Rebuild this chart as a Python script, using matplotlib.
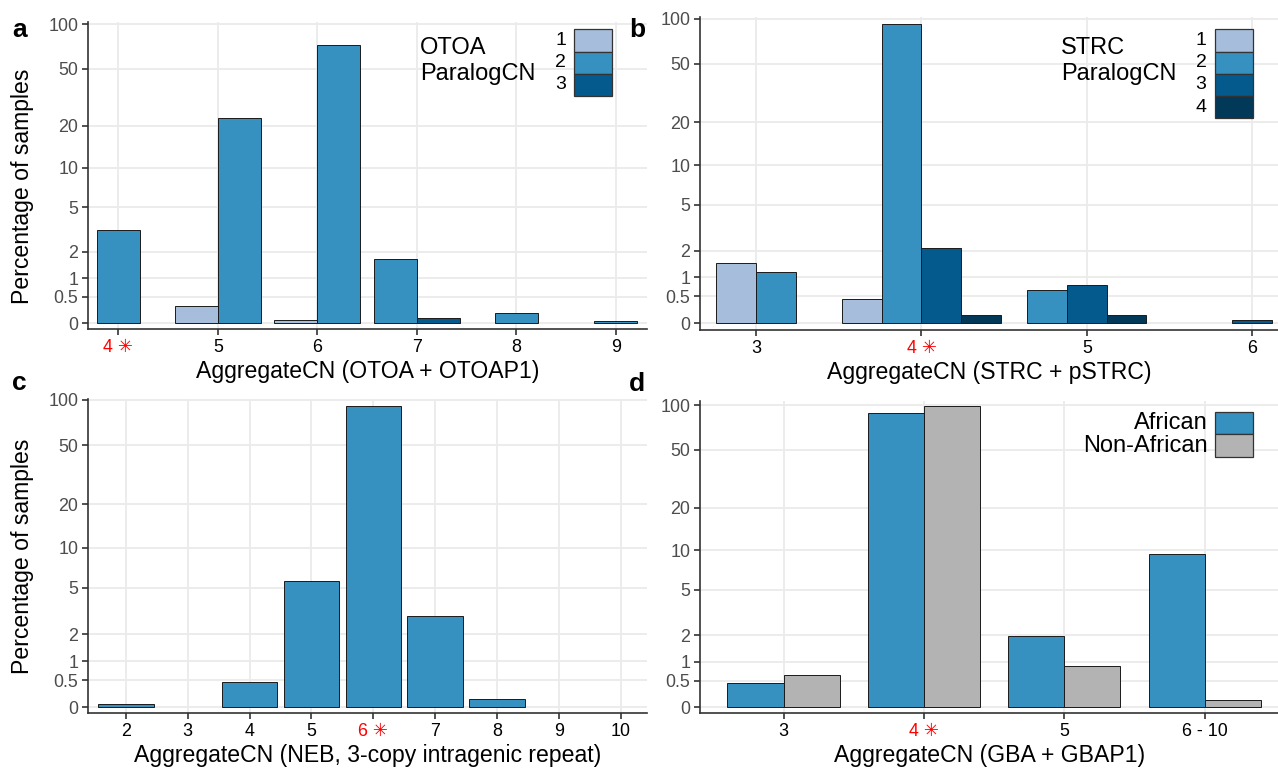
import numpy as np
import matplotlib
matplotlib.use("Agg")
import matplotlib.pyplot as plt
from matplotlib.patches import Rectangle

plt.rcParams['font.family'] = ['Liberation Sans', 'DejaVu Sans']

# ---- data (percentages) ----
otoa_cn = [4, 5, 6, 7, 8, 9]
otoa_labels = ['4 \u2733', '5', '6', '7', '8', '9']
otoa_p1 = [np.nan, 0.30, 0.043, np.nan, np.nan, np.nan]
otoa_p2 = [3.2, 22.9, 72.8, 1.67, 0.17, 0.04]
otoa_p3 = [np.nan, np.nan, np.nan, 0.086, np.nan, np.nan]

strc_cn = [3, 4, 5, 6]
strc_labels = ['3', '4 \u2733', '5', '6']
strc_p1 = [1.50, 0.45, np.nan, np.nan]
strc_p2 = [1.17, 93.0, 0.64, np.nan]
strc_p3 = [np.nan, 2.1, 0.77, 0.04]
strc_p4 = [np.nan, 0.13, 0.13, np.nan]

neb_cn = [2, 3, 4, 5, 6, 7, 8, 9, 10]
neb_labels = ['2', '3', '4', '5', '6 \u2733', '7', '8', '9', '10']
neb_pct = [0.05, np.nan, 0.47, 5.64, 91.6, 2.93, 0.14, np.nan, np.nan]

gba_labels = ['3', '4 \u2733', '5', '6 - 10']
gba_african = [0.45, 88.5, 1.96, 9.4]
gba_nonafrican = [0.645, 99.0, 0.87, 0.11]

ybreaks = [0, 0.5, 1, 2, 5, 10, 20, 50, 100]
ylabels = ['0', '0.5', '1', '2', '5', '10', '20', '50', '100']

pubu = ['#a6bddb', '#3690c0', '#045a8d', '#023858']
grey = '#b3b3b3'

W, H = 1278, 773
fig = plt.figure(figsize=(W / 100, H / 100), dpi=100)


def fwd(y):
    return np.log10(1 + np.maximum(y, -0.99))


def inv(t):
    return 10 ** t - 1


def px_axes(l, t, r, b):
    return fig.add_axes([l / W, 1 - b / H, (r - l) / W, (b - t) / H])


def style(ax, xt, xl, tlo, thi, xlim):
    ax.set_yscale('function', functions=(fwd, inv))
    ax.set_ylim(inv(tlo), inv(thi))
    ax.set_yticks(ybreaks)
    ax.set_yticklabels(ylabels)
    ax.set_xticks(xt)
    ax.set_xticklabels(xl)
    ax.set_xlim(*xlim)
    ax.minorticks_off()
    ax.grid(True, color='#ebebeb', lw=1.3)
    ax.set_axisbelow(True)
    for s in ['top', 'right']:
        ax.spines[s].set_visible(False)
    for s in ['left', 'bottom']:
        ax.spines[s].set_color('#333333')
        ax.spines[s].set_linewidth(1.2)
    ax.tick_params(length=4, width=1.2, color='#333333', labelsize=12.9, pad=3)
    ax.tick_params(axis='y', labelcolor='#4d4d4d')
    ax.tick_params(axis='x', labelcolor='black')
    for lab in ax.get_xticklabels():
        if '\u2733' in lab.get_text():
            lab.set_color('red')


def dodge(ax, x, series, colors, width):
    for i, xi in enumerate(x):
        present = [k for k in range(len(series)) if not np.isnan(series[k][i])]
        n = len(present)
        for j, k in enumerate(present):
            off = (j - (n - 1) / 2) * width
            ax.bar(xi + off, series[k][i], width, color=colors[k],
                   edgecolor='#1a1a1a', lw=0.7)


def key(l, t, r, b, color):
    fig.add_artist(Rectangle((l / W, 1 - b / H), (r - l) / W, (b - t) / H,
                             transform=fig.transFigure, facecolor=color,
                             edgecolor='#333333', lw=0.9))


def ftext(x, y, s, **kw):
    fig.text(x / W, 1 - y / H, s, **kw)


# ---- panel a ----
ax = px_axes(88, 21.7, 647, 329.3)
dodge(ax, otoa_cn, [otoa_p1, otoa_p2, otoa_p3], pubu, 0.43)
style(ax, otoa_cn, otoa_labels, -0.042, 2.022, (3.695, 9.315))
ax.set_xlabel('AggregateCN (OTOA + OTOAP1)', fontsize=16.6, labelpad=3)

# ---- panel b ----
ax = px_axes(700.2, 17.3, 1278, 330)
dodge(ax, strc_cn, [strc_p1, strc_p2, strc_p3, strc_p4], pubu, 0.24)
style(ax, strc_cn, strc_labels, -0.046, 2.015, (2.662, 6.156))
ax.set_xlabel('AggregateCN (STRC + pSTRC)', fontsize=16.6, labelpad=3)

# ---- panel c ----
ax = px_axes(88, 399, 647, 713.3)
ax.bar(neb_cn, neb_pct, 0.9, color=pubu[1], edgecolor='#1a1a1a', lw=0.7)
style(ax, neb_cn, neb_labels, -0.039, 2.01, (1.39, 10.42))
ax.set_xlabel('AggregateCN (NEB, 3-copy intragenic repeat)', fontsize=16.6, labelpad=3)

# ---- panel d ----
ax = px_axes(700.2, 400.7, 1278, 713.3)
gx = np.arange(len(gba_labels))
dodge(ax, gx, [gba_african, gba_nonafrican], [pubu[1], grey], 0.4)
style(ax, gx, gba_labels, -0.040, 2.033, (-0.594, 3.522))
ax.set_xlabel('AggregateCN (GBA + GBAP1)', fontsize=16.6, labelpad=3)

# ---- y titles ----
ftext(23, 186.7, 'Percentage of samples', fontsize=16.6, rotation=90,
      ha='center', va='center')
ftext(23, 556.7, 'Percentage of samples', fontsize=16.6, rotation=90,
      ha='center', va='center')

# ---- panel letters ----
for x, y, s in [(12, 37.3, 'a'), (629, 37.3, 'b'), (12, 390, 'c'), (629, 391, 'd')]:
    ftext(x, y, s, fontsize=19, fontweight='bold', va='baseline')

# ---- legends ----
ftext(420, 53.7, 'OTOA', fontsize=17, va='baseline')
ftext(420, 80, 'ParalogCN', fontsize=17, va='baseline')
a_edges = [29.3, 51.7, 73.7, 95.7]
for i in range(3):
    key(574.3, a_edges[i], 611.7, a_edges[i + 1], pubu[i])
    ftext(566, (a_edges[i] + a_edges[i + 1]) / 2, str(i + 1), fontsize=14,
          ha='right', va='center')

ftext(1061, 53.7, 'STRC', fontsize=17, va='baseline')
ftext(1061, 80, 'ParalogCN', fontsize=17, va='baseline')
b_edges = [29.3, 51.7, 73.7, 96, 118]
for i in range(4):
    key(1214.7, b_edges[i], 1252.7, b_edges[i + 1], pubu[i])
    ftext(1206.4, (b_edges[i] + b_edges[i + 1]) / 2, str(i + 1), fontsize=14,
          ha='right', va='center')

d_edges = [411.7, 434.3, 457.3]
for i, (name, col) in enumerate([('African', pubu[1]), ('Non-African', grey)]):
    key(1214.8, d_edges[i], 1252.7, d_edges[i + 1], col)
    ftext(1207.5, (d_edges[i] + d_edges[i + 1]) / 2, name, fontsize=17,
          ha='right', va='center')

fig.savefig('out.png', dpi=100)
